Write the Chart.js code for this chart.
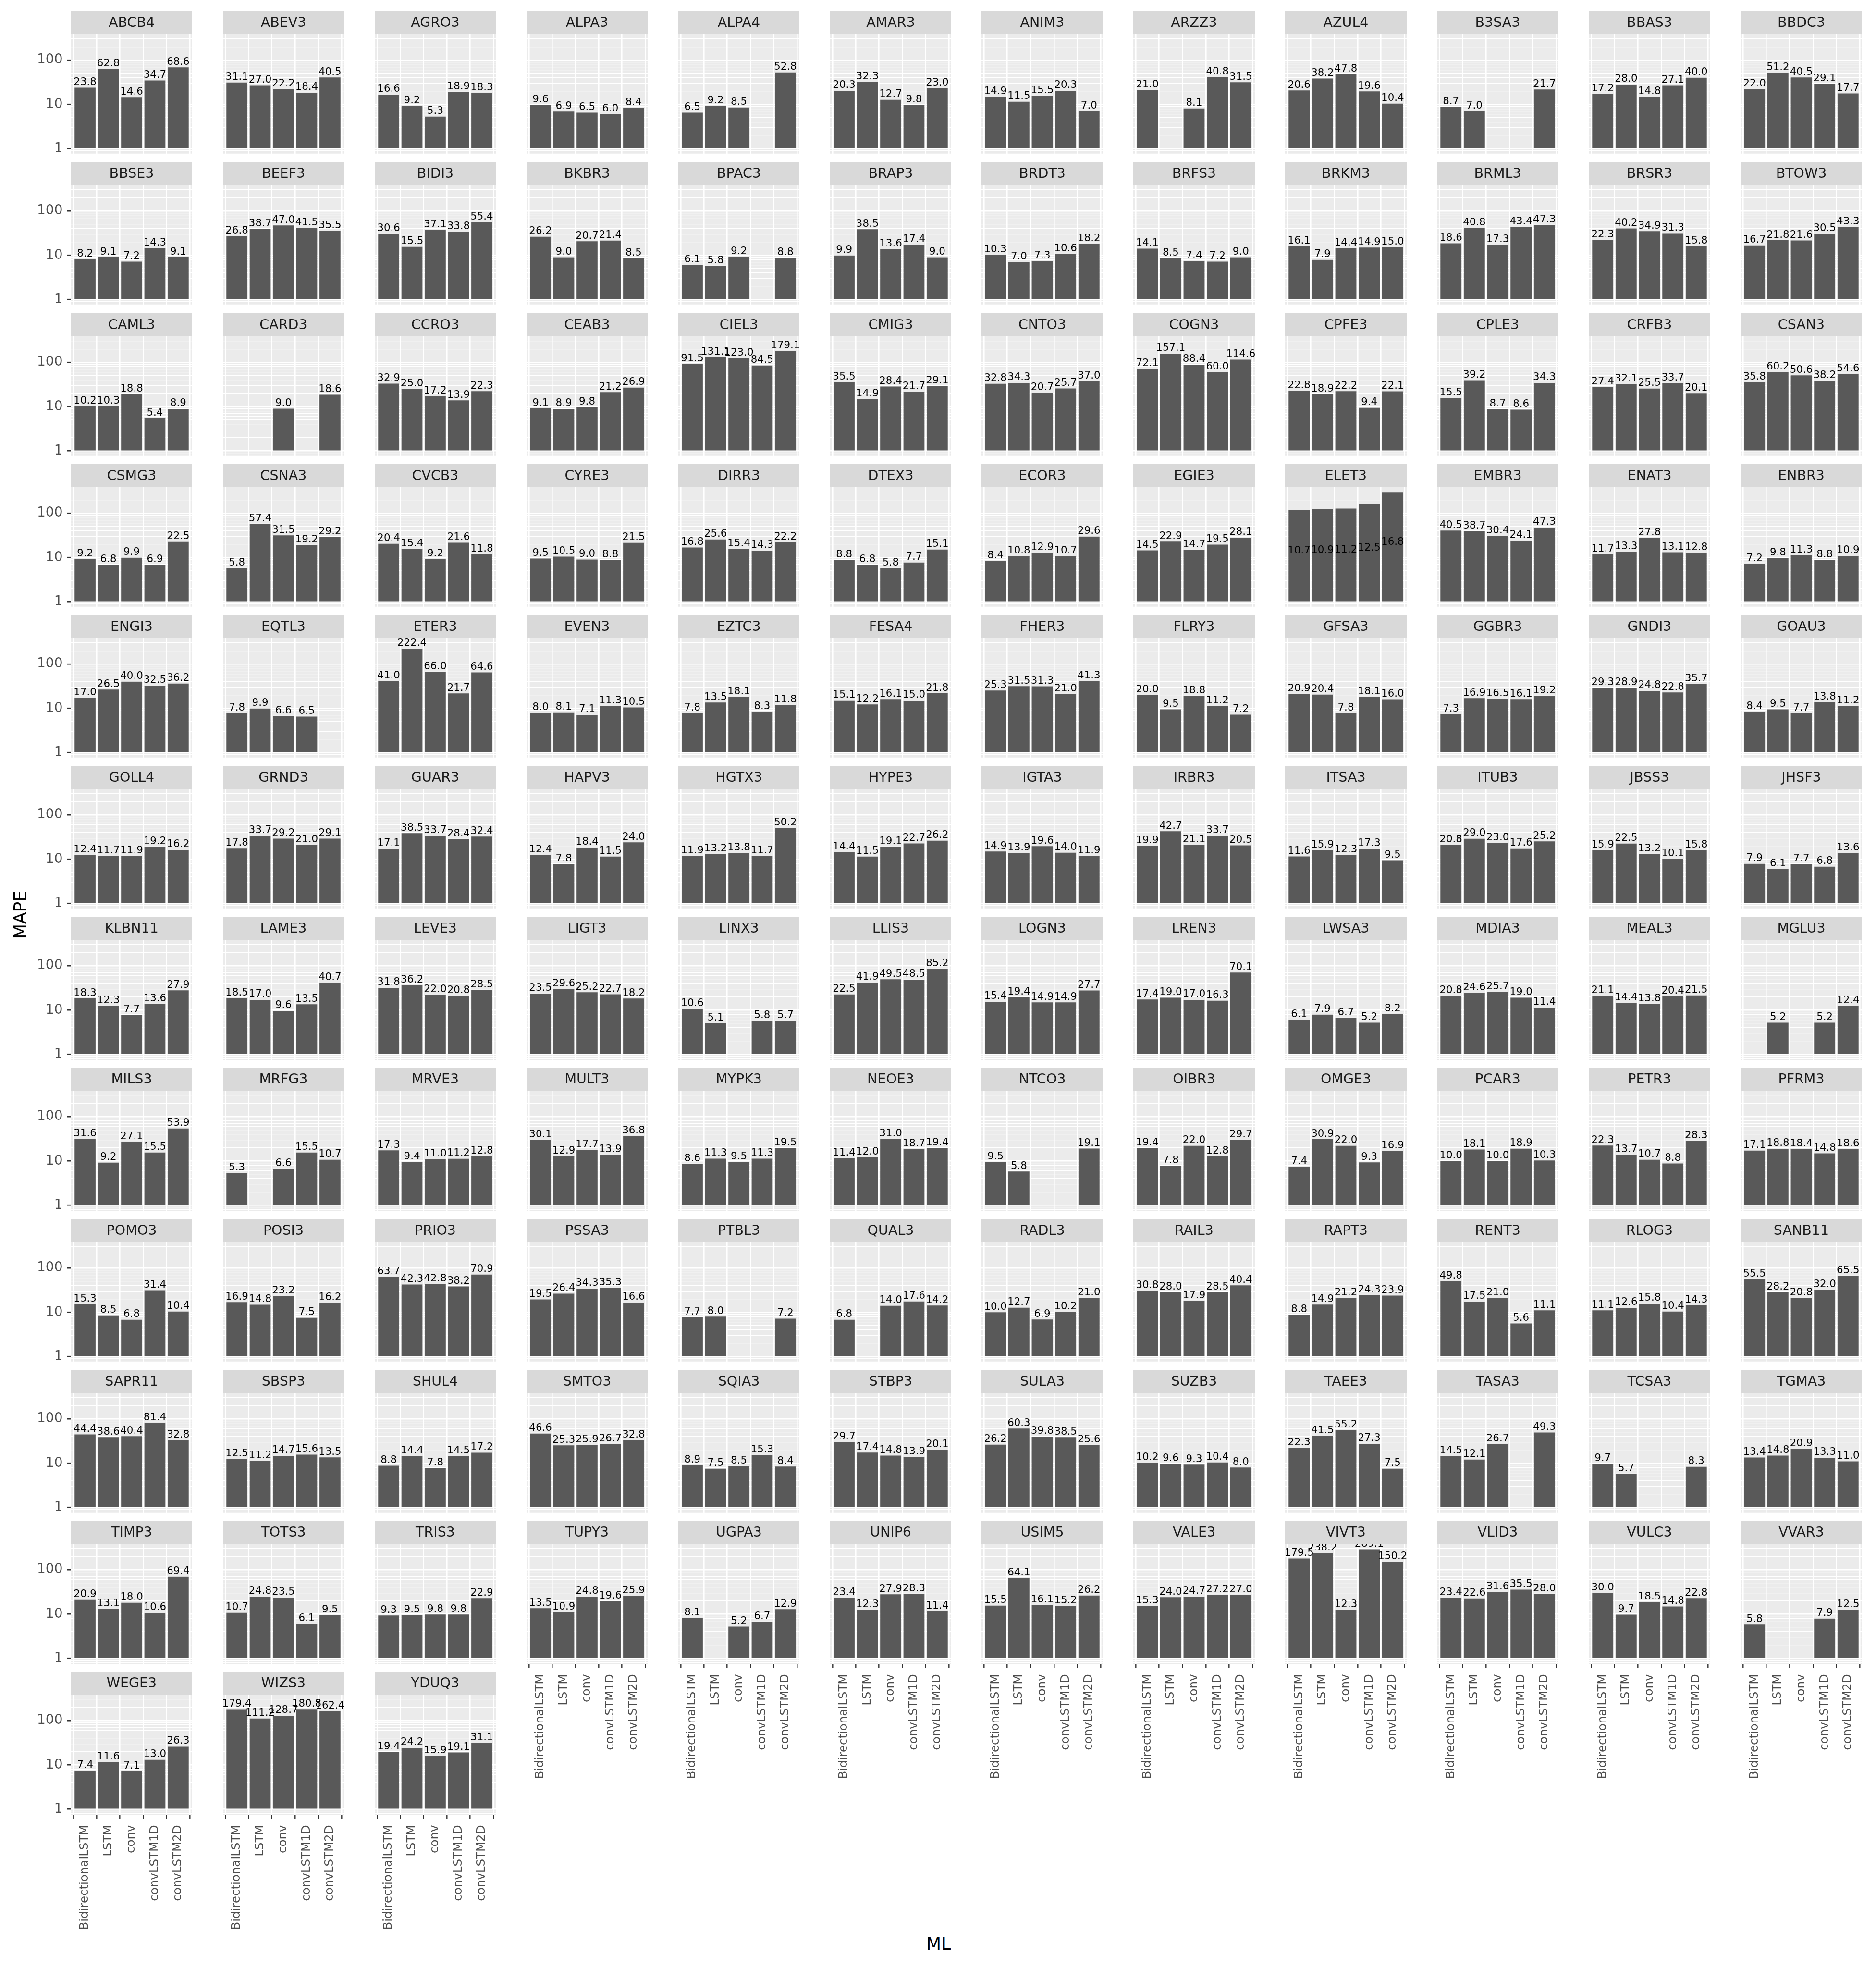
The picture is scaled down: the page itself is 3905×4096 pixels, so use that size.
<!DOCTYPE html>
<html><head><meta charset="utf-8">
<script src="https://cdn.jsdelivr.net/npm/chart.js@4.4.0/dist/chart.umd.min.js"></script>
<style>
html,body{margin:0;padding:0;background:#ffffff;}
body{width:3905px;height:4096px;position:relative;overflow:hidden;font-family:'DejaVu Sans';}
canvas{position:absolute;display:block;}
.atitle{position:absolute;font-family:'DejaVu Sans';font-size:36px;color:#000000;line-height:1;white-space:nowrap;transform-origin:center center;}
</style></head><body>
<script>
// ---------------- DATA ----------------
const tickers = [
 'ABCB4','ABEV3','AGRO3','ALPA3','ALPA4','AMAR3','ANIM3','ARZZ3','AZUL4','B3SA3','BBAS3','BBDC3',
 'BBSE3','BEEF3','BIDI3','BKBR3','BPAC3','BRAP3','BRDT3','BRFS3','BRKM3','BRML3','BRSR3','BTOW3',
 'CAML3','CARD3','CCRO3','CEAB3','CIEL3','CMIG3','CNTO3','COGN3','CPFE3','CPLE3','CRFB3','CSAN3',
 'CSMG3','CSNA3','CVCB3','CYRE3','DIRR3','DTEX3','ECOR3','EGIE3','ELET3','EMBR3','ENAT3','ENBR3',
 'ENGI3','EQTL3','ETER3','EVEN3','EZTC3','FESA4','FHER3','FLRY3','GFSA3','GGBR3','GNDI3','GOAU3',
 'GOLL4','GRND3','GUAR3','HAPV3','HGTX3','HYPE3','IGTA3','IRBR3','ITSA3','ITUB3','JBSS3','JHSF3',
 'KLBN11','LAME3','LEVE3','LIGT3','LINX3','LLIS3','LOGN3','LREN3','LWSA3','MDIA3','MEAL3','MGLU3',
 'MILS3','MRFG3','MRVE3','MULT3','MYPK3','NEOE3','NTCO3','OIBR3','OMGE3','PCAR3','PETR3','PFRM3',
 'POMO3','POSI3','PRIO3','PSSA3','PTBL3','QUAL3','RADL3','RAIL3','RAPT3','RENT3','RLOG3','SANB11',
 'SAPR11','SBSP3','SHUL4','SMTO3','SQIA3','STBP3','SULA3','SUZB3','TAEE3','TASA3','TCSA3','TGMA3',
 'TIMP3','TOTS3','TRIS3','TUPY3','UGPA3','UNIP6','USIM5','VALE3','VIVT3','VLID3','VULC3','VVAR3',
 'WEGE3','WIZS3','YDUQ3'];

const models = ['BidirectionalLSTM','LSTM','conv','convLSTM1D','convLSTM2D'];

const bidirectionalLSTM = [
 23.8, 31.1, 16.6, 9.6, 6.5, 20.3, 14.9, 21.0, 20.6, 8.7, 17.2, 22.0,
 8.2, 26.8, 30.6, 26.2, 6.1, 9.9, 10.3, 14.1, 16.1, 18.6, 22.3, 16.7,
 10.2, null, 32.9, 9.1, 91.5, 35.5, 32.8, 72.1, 22.8, 15.5, 27.4, 35.8,
 9.2, 5.8, 20.4, 9.5, 16.8, 8.8, 8.4, 14.5, 117, 40.5, 11.7, 7.2,
 17.0, 7.8, 41.0, 8.0, 7.8, 15.1, 25.3, 20.0, 20.9, 7.3, 29.3, 8.4,
 12.4, 17.8, 17.1, 12.4, 11.9, 14.4, 14.9, 19.9, 11.6, 20.8, 15.9, 7.9,
 18.3, 18.5, 31.8, 23.5, 10.6, 22.5, 15.4, 17.4, 6.1, 20.8, 21.1, null,
 31.6, 5.3, 17.3, 30.1, 8.6, 11.4, 9.5, 19.4, 7.4, 10.0, 22.3, 17.1,
 15.3, 16.9, 63.7, 19.5, 7.7, 6.8, 10.0, 30.8, 8.8, 49.8, 11.1, 55.5,
 44.4, 12.5, 8.8, 46.6, 8.9, 29.7, 26.2, 10.2, 22.3, 14.5, 9.7, 13.4,
 20.9, 10.7, 9.3, 13.5, 8.1, 23.4, 15.5, 15.3, 179.5, 23.4, 30.0, 5.8,
 7.4, 179.4, 19.4];

const lstm = [
 62.8, 27.0, 9.2, 6.9, 9.2, 32.3, 11.5, null, 38.2, 7.0, 28.0, 51.2,
 9.1, 38.7, 15.5, 9.0, 5.8, 38.5, 7.0, 8.5, 7.9, 40.8, 40.2, 21.8,
 10.3, null, 25.0, 8.9, 131.1, 14.9, 34.3, 157.1, 18.9, 39.2, 32.1, 60.2,
 6.8, 57.4, 15.4, 10.5, 25.6, 6.8, 10.8, 22.9, 122, 38.7, 13.3, 9.8,
 26.5, 9.9, 222.4, 8.1, 13.5, 12.2, 31.5, 9.5, 20.4, 16.9, 28.9, 9.5,
 11.7, 33.7, 38.5, 7.8, 13.2, 11.5, 13.9, 42.7, 15.9, 29.0, 22.5, 6.1,
 12.3, 17.0, 36.2, 29.6, 5.1, 41.9, 19.4, 19.0, 7.9, 24.6, 14.4, 5.2,
 9.2, null, 9.4, 12.9, 11.3, 12.0, 5.8, 7.8, 30.9, 18.1, 13.7, 18.8,
 8.5, 14.8, 42.3, 26.4, 8.0, null, 12.7, 28.0, 14.9, 17.5, 12.6, 28.2,
 38.6, 11.2, 14.4, 25.3, 7.5, 17.4, 60.3, 9.6, 41.5, 12.1, 5.7, 14.8,
 13.1, 24.8, 9.5, 10.9, null, 12.3, 64.1, 24.0, 238.2, 22.6, 9.7, null,
 11.6, 111.2, 24.2];

const conv = [
 14.6, 22.2, 5.3, 6.5, 8.5, 12.7, 15.5, 8.1, 47.8, null, 14.8, 40.5,
 7.2, 47.0, 37.1, 20.7, 9.2, 13.6, 7.3, 7.4, 14.4, 17.3, 34.9, 21.6,
 18.8, 9.0, 17.2, 9.8, 123.0, 28.4, 20.7, 88.4, 22.2, 8.7, 25.5, 50.6,
 9.9, 31.5, 9.2, 9.0, 15.4, 5.8, 12.9, 14.7, 127, 30.4, 27.8, 11.3,
 40.0, 6.6, 66.0, 7.1, 18.1, 16.1, 31.3, 18.8, 7.8, 16.5, 24.8, 7.7,
 11.9, 29.2, 33.7, 18.4, 13.8, 19.1, 19.6, 21.1, 12.3, 23.0, 13.2, 7.7,
 7.7, 9.6, 22.0, 25.2, null, 49.5, 14.9, 17.0, 6.7, 25.7, 13.8, null,
 27.1, 6.6, 11.0, 17.7, 9.5, 31.0, null, 22.0, 22.0, 10.0, 10.7, 18.4,
 6.8, 23.2, 42.8, 34.3, null, 14.0, 6.9, 17.9, 21.2, 21.0, 15.8, 20.8,
 40.4, 14.7, 7.8, 25.9, 8.5, 14.8, 39.8, 9.3, 55.2, 26.7, null, 20.9,
 18.0, 23.5, 9.8, 24.8, 5.2, 27.9, 16.1, 24.7, 12.3, 31.6, 18.5, null,
 7.1, 128.7, 15.9];

const convLSTM1D = [
 34.7, 18.4, 18.9, 6.0, null, 9.8, 20.3, 40.8, 19.6, null, 27.1, 29.1,
 14.3, 41.5, 33.8, 21.4, null, 17.4, 10.6, 7.2, 14.9, 43.4, 31.3, 30.5,
 5.4, null, 13.9, 21.2, 84.5, 21.7, 25.7, 60.0, 9.4, 8.6, 33.7, 38.2,
 6.9, 19.2, 21.6, 8.8, 14.3, 7.7, 10.7, 19.5, 158, 24.1, 13.1, 8.8,
 32.5, 6.5, 21.7, 11.3, 8.3, 15.0, 21.0, 11.2, 18.1, 16.1, 22.8, 13.8,
 19.2, 21.0, 28.4, 11.5, 11.7, 22.7, 14.0, 33.7, 17.3, 17.6, 10.1, 6.8,
 13.6, 13.5, 20.8, 22.7, 5.8, 48.5, 14.9, 16.3, 5.2, 19.0, 20.4, 5.2,
 15.5, 15.5, 11.2, 13.9, 11.3, 18.7, null, 12.8, 9.3, 18.9, 8.8, 14.8,
 31.4, 7.5, 38.2, 35.3, null, 17.6, 10.2, 28.5, 24.3, 5.6, 10.4, 32.0,
 81.4, 15.6, 14.5, 26.7, 15.3, 13.9, 38.5, 10.4, 27.3, null, null, 13.3,
 10.6, 6.1, 9.8, 19.6, 6.7, 28.3, 15.2, 27.2, 289.1, 35.5, 14.8, 7.9,
 13.0, 180.8, 19.1];

const convLSTM2D = [
 68.6, 40.5, 18.3, 8.4, 52.8, 23.0, 7.0, 31.5, 10.4, 21.7, 40.0, 17.7,
 9.1, 35.5, 55.4, 8.5, 8.8, 9.0, 18.2, 9.0, 15.0, 47.3, 15.8, 43.3,
 8.9, 18.6, 22.3, 26.9, 179.1, 29.1, 37.0, 114.6, 22.1, 34.3, 20.1, 54.6,
 22.5, 29.2, 11.8, 21.5, 22.2, 15.1, 29.6, 28.1, 290, 47.3, 12.8, 10.9,
 36.2, null, 64.6, 10.5, 11.8, 21.8, 41.3, 7.2, 16.0, 19.2, 35.7, 11.2,
 16.2, 29.1, 32.4, 24.0, 50.2, 26.2, 11.9, 20.5, 9.5, 25.2, 15.8, 13.6,
 27.9, 40.7, 28.5, 18.2, 5.7, 85.2, 27.7, 70.1, 8.2, 11.4, 21.5, 12.4,
 53.9, 10.7, 12.8, 36.8, 19.5, 19.4, 19.1, 29.7, 16.9, 10.3, 28.3, 18.6,
 10.4, 16.2, 70.9, 16.6, 7.2, 14.2, 21.0, 40.4, 23.9, 11.1, 14.3, 65.5,
 32.8, 13.5, 17.2, 32.8, 8.4, 20.1, 25.6, 8.0, 7.5, 49.3, 8.3, 11.0,
 69.4, 9.5, 22.9, 25.9, 12.9, 11.4, 26.2, 27.0, 150.2, 28.0, 22.8, 12.5,
 26.3, 162.4, 31.1];

// ELET3's printed labels differ from its bar heights in the reference
const elet3LabelValues = [10.7, 10.9, 11.2, 12.5, 16.8];
const labelOverrides = { ELET3: elet3LabelValues };

const yMajorTickValues = [1, 10, 100];
const yTitle = 'MAPE';
const xTitle = 'ML';

// ---------------- LAYOUT ----------------
const S = 0.802;
const NCOL = 12;
const L = {
  colPitch: 394 * S, rowPitch: 391.73 * S,
  panelLeft0: 184 * S, stripTop0: 29 * S,
  panelW: 315 * S, stripH: 59.7 * S, panelH: 311.3 * S,
  xAxisH: 250
};
const series = [bidirectionalLSTM, lstm, conv, convLSTM1D, convLSTM2D];
const allVals = series.flat().filter(v => v != null);
const R = Math.log10(Math.max(...allVals));
const yMin = Math.pow(10, -0.05 * R), yMax = Math.pow(10, 1.05 * R);
const yTickVals = [];
for (const d of [0.1, 1, 10, 100, 1000]) for (let k = 1; k <= 9; k++) {
  const v = +(k * d).toPrecision(3);
  if (v >= yMin && v <= yMax) yTickVals.push(v);
}
const isMajor = v => yMajorTickValues.includes(v);
const FONT = "'DejaVu Sans'";

const facetPlugin = {
  id: 'facet',
  beforeDraw(chart) {
    const a = chart.chartArea, ctx = chart.ctx;
    ctx.save(); ctx.fillStyle = '#EBEBEB';
    ctx.fillRect(a.left, a.top, a.right - a.left, a.bottom - a.top);
    ctx.restore();
  },
  afterDatasetsDraw(chart) {
    const ctx = chart.ctx, ys = chart.scales.y;
    const meta = chart.getDatasetMeta(0), ds = chart.data.datasets[0];
    ctx.save();
    ctx.font = '21.3px ' + FONT; ctx.fillStyle = '#000000';
    ctx.textAlign = 'center'; ctx.textBaseline = 'alphabetic';
    meta.data.forEach((el, j) => {
      const t = ds.data[j].t;
      if (t == null) return;
      ctx.fillText(t.toFixed(1), el.x, ys.getPixelForValue(t) - 5.6);
    });
    ctx.restore();
  },
  afterDraw(chart, args, opts) {
    const a = chart.chartArea, ctx = chart.ctx;
    ctx.save();
    ctx.fillStyle = '#D9D9D9';
    ctx.fillRect(a.left, 0, a.right - a.left, opts.stripH);
    ctx.fillStyle = '#1A1A1A'; ctx.font = '28.5px ' + FONT;
    ctx.textAlign = 'center'; ctx.textBaseline = 'alphabetic';
    ctx.fillText(opts.label, (a.left + a.right) / 2, 41 * S);
    ctx.restore();
  }
};

tickers.forEach((tk, idx) => {
  const row = Math.floor(idx / NCOL), col = idx % NCOL;
  const bottomRow = Math.floor((tickers.length - 1 - col) / NCOL);
  const showX = row === bottomRow;
  const showY = col === 0;
  const pl = Math.round(L.panelLeft0 + col * L.colPitch);
  const pr = Math.round(L.panelLeft0 + col * L.colPitch + L.panelW);
  const st = Math.round(L.stripTop0 + row * L.rowPitch);
  const stripH = Math.round(L.stripH);
  const panelH = Math.round(L.panelH);
  const cLeft = showY ? 0 : pl;
  const W = pr - cLeft;
  const yW = pl - cLeft;
  const xH = showX ? L.xAxisH : 0;
  const H = stripH + panelH + xH;

  const cv = document.createElement('canvas');
  cv.width = W; cv.height = H;
  cv.style.left = cLeft + 'px'; cv.style.top = st + 'px';
  cv.style.width = W + 'px'; cv.style.height = H + 'px';
  document.body.appendChild(cv);

  const ov = labelOverrides[tk];
  const pts = [];
  models.forEach((m, i) => {
    const v = series[i][idx];
    if (v == null) return;
    pts.push({ x: i, y: v, t: ov ? ov[i] : v });
  });

  new Chart(cv, {
    type: 'bar',
    data: { datasets: [{ data: pts, backgroundColor: '#595959', borderWidth: 0,
      base: 1, barPercentage: 0.9, categoryPercentage: 1.0 }] },
    plugins: [facetPlugin],
    options: {
      responsive: false, animation: false, devicePixelRatio: 1,
      layout: { padding: { top: stripH, left: 0, right: 0, bottom: 0 } },
      plugins: { legend: { display: false }, tooltip: { enabled: false }, title: { display: false },
        facet: { label: tk, stripH: stripH } },
      scales: {
        x: {
          type: 'linear', min: -0.6, max: 4.6, bounds: 'data', offset: false,
          afterBuildTicks: s => { s.ticks = models.map((m, i) => ({ value: i })); },
          afterFit: s => { s.height = xH; s.paddingLeft = 0; s.paddingRight = 0; },
          grid: { color: '#FFFFFF', lineWidth: 2.6, drawTicks: showX, tickLength: 8.5,
            tickColor: '#333333', tickWidth: 2.4 },
          border: { display: false },
          ticks: { display: showX, autoSkip: false, maxRotation: 90, minRotation: 90, padding: 13,
            color: '#4D4D4D', font: { family: FONT, size: 24.5 },
            callback: v => models[v] }
        },
        y: {
          type: 'logarithmic', min: yMin, max: yMax, bounds: 'data',
          afterBuildTicks: s => { s.ticks = yTickVals.map(v => ({ value: v })); },
          afterFit: s => { s.width = yW; s.paddingTop = 0; s.paddingBottom = 0; },
          grid: { color: '#FFFFFF',
            lineWidth: c => (c.tick && isMajor(c.tick.value)) ? 2.4 : 1.3,
            drawTicks: showY, tickLength: 8.5,
            tickColor: c => (c.tick && isMajor(c.tick.value)) ? '#333333' : 'rgba(0,0,0,0)',
            tickWidth: 2.6 },
          border: { display: false },
          ticks: { display: showY, autoSkip: false, padding: 9, color: '#4D4D4D',
            font: { family: FONT, size: 28 },
            callback: v => isMajor(v) ? String(v) : '' }
        }
      }
    }
  });
});

// axis titles
const yt = document.createElement('div');
yt.className = 'atitle'; yt.textContent = yTitle;
yt.style.left = (52.5 * S) + 'px'; yt.style.top = (2374 * S) + 'px';
yt.style.transform = 'translate(-50%,-50%) rotate(-90deg)';
document.body.appendChild(yt);
const xt = document.createElement('div');
xt.className = 'atitle'; xt.textContent = xTitle;
xt.style.left = (2436 * S) + 'px'; xt.style.top = (5045 * S) + 'px';
xt.style.transform = 'translate(-50%,-50%)';
document.body.appendChild(xt);
</script>
</body></html>
